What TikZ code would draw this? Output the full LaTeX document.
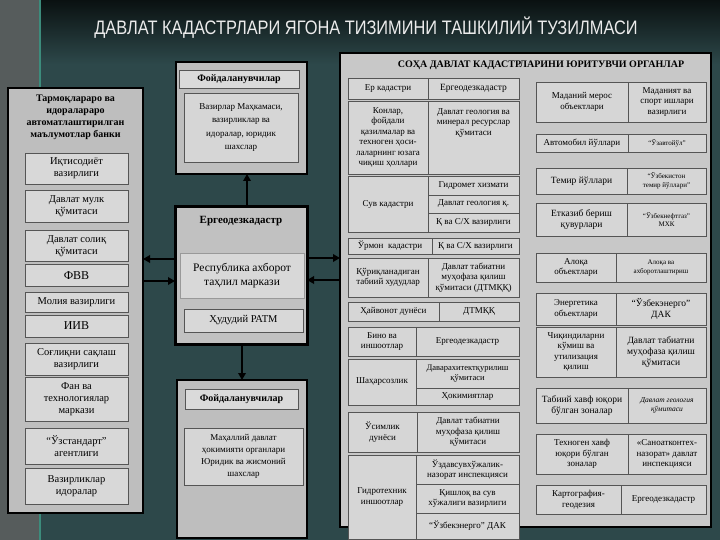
\documentclass[tikz,border=0pt]{standalone}
\usepackage{fontspec}
\setmainfont{Liberation Serif}
\newfontfamily\titlefont[FakeStretch=0.84]{Liberation Sans}
\usetikzlibrary{arrows.meta}
\definecolor{bgteal}{HTML}{2D484A}
\definecolor{topdark}{HTML}{0A1111}
\definecolor{stripcol}{HTML}{565C5C}
\definecolor{stripline}{HTML}{3C8C7C}
\definecolor{panelfill}{HTML}{BEBEBE}
\definecolor{rpanelfill}{HTML}{C8C8C8}
\definecolor{cellfill}{HTML}{D6D6D6}
\definecolor{cellline}{HTML}{555555}
\newcommand\bx[7][]{%
  \pgfmathsetmacro\bxw{#5-#3}\pgfmathsetmacro\bxh{#6-#4}%
  \node[cell,minimum width=\bxw pt,minimum height=\bxh pt,#1] (#2) at ({(#3+#5)/2},{(#4+#6)/2}) {#7};}
\begin{document}
\begin{tikzpicture}[x=1pt,y=-1pt,
  cell/.style={draw=cellline,fill=cellfill,line width=0.6pt,inner sep=0.5pt,outer sep=0pt,align=center,
    font=\fontsize{9}{10.5}\selectfont},
  lcell/.style={font=\fontsize{10.5}{12}\selectfont,fill=cellfill!95!white},
  small/.style={font=\fontsize{7}{8.5}\selectfont},
  panel/.style={draw=black,line width=1.4pt,inner sep=0pt,outer sep=0pt},
  arr/.style={line width=2.2pt,-{Triangle[length=7pt,width=7.5pt]}}]
\useasboundingbox (0,0) rectangle (720,540);
\fill[bgteal] (0,0) rectangle (720,540);
\shade[top color=topdark,bottom color=bgteal] (0,0) rectangle (720,64);
\fill[stripcol] (0,0) rectangle (39,540);
\fill[stripline] (39,0) rectangle (41,540);
\node[font=\titlefont\fontsize{19.5}{20}\selectfont,text=white!92!black] (title) at (366,28)
  {ДАВЛАТ КАДАСТРЛАРИ ЯГОНА ТИЗИМИНИ ТАШКИЛИЙ ТУЗИЛМАСИ};

% ---------------- left panel
\bx[panel,fill=panelfill]{lp}{8}{88}{143}{513}{}
\node[font=\bfseries\fontsize{10}{12}\selectfont,align=center] (lpt) at (75.5,117)
  {Тармоқлараро ва\\идоралараро\\автоматлаштирилган\\маълумотлар банки};
\bx[lcell]{l1}{25}{153}{128}{184}{Иқтисодиёт\\вазирлиги}
\bx[lcell]{l2}{25}{190}{128}{222.5}{Давлат мулк\\қўмитаси}
\bx[lcell]{l3}{25}{230}{128}{261.5}{Давлат солиқ\\қўмитаси}
\bx[lcell,font=\fontsize{12}{13}\selectfont]{l4}{25}{264}{128}{286.5}{ФВВ}
\bx[lcell]{l5}{25}{292}{128}{312.5}{Молия вазирлиги}
\bx[lcell,font=\fontsize{12}{13}\selectfont]{l6}{25}{315}{128}{337}{ИИВ}
\bx[lcell]{l7}{25}{343}{128}{375}{Соғлиқни сақлаш\\вазирлиги}
\bx[lcell]{l8}{25}{377}{128}{421}{Фан ва\\технологиялар\\маркази}
\bx[lcell]{l9}{25}{428}{128}{464}{“Ўзстандарт”\\агентлиги}
\bx[lcell]{l10}{25}{468}{128}{504}{Вазирликлар\\идоралар}

% ---------------- centre top
\bx[panel,fill=panelfill]{ub}{176}{62}{307}{174}{}
\bx[font=\bfseries\fontsize{10}{12}\selectfont,fill=cellfill!90!white]{ubt}{179}{70}{299}{88}{Фойдаланувчилар}
\bx[font=\fontsize{9}{13.5}\selectfont]{ubc}{184}{93}{298}{162}{Вазирлар Маҳкамаси,\\вазирликлар ва\\идоралар, юридик\\шахслар}

% ---------------- centre
\bx[draw=black,line width=3pt,fill=panelfill!95!white]{cb}{175}{207}{307}{344}{}
\node[font=\bfseries\fontsize{11}{13}\selectfont] (cbt) at (241,221) {Ергеодезкадастр};
\bx[draw=cellline!60!white,fill=cellfill!95!white,font=\fontsize{11.5}{14}\selectfont]{cbr}{180}{253}{304}{298}{Республика ахборот\\таҳлил маркази}
\bx[fill=cellfill!95!white,font=\fontsize{10.5}{12}\selectfont]{cbh}{184}{309}{303}{332}{Ҳудудий РАТМ}

% ---------------- centre bottom
\bx[panel,fill=panelfill]{db}{177}{380}{307}{538}{}
\bx[font=\bfseries\fontsize{10}{12}\selectfont,fill=cellfill!90!white]{dbt}{185}{389}{298}{409}{Фойдаланувчилар}
\bx[font=\fontsize{9}{12}\selectfont]{dbc}{184}{428}{303}{485}{Маҳаллий давлат\\ҳокимияти органлари\\Юридик ва жисмоний\\шахслар}

% ---------------- right panel
\bx[panel,fill=rpanelfill]{rp}{340}{53}{711}{527}{}
\node[font=\bfseries\fontsize{10}{12}\selectfont] (rpt) at (541,65) {СОҲА ДАВЛАТ КАДАСТРЛАРИНИ ЮРИТУВЧИ ОРГАНЛАР};

\bx{ra1}{348}{78}{428}{99}{Ер кадастри}
\bx[font=\fontsize{9.5}{11}\selectfont]{ra2}{428}{78}{519}{99}{Ергеодезкадастр}
\bx{rb1}{348}{101}{428}{174}{Конлар,\\фойдали\\қазилмалар ва\\техноген ҳоси-\\лаларнинг юзага\\чиқиш ҳоллари}
\bx{rb2}{428}{101}{519}{174}{}
\node[font=\fontsize{9}{10.5}\selectfont,align=center,anchor=north] (rb2t) at ([yshift=-4pt]rb2.north) {Давлат геология ва\\минерал ресурслар\\қўмитаси};
\bx{rc}{348}{176}{428}{232}{Сув кадастри}
\bx{rc1}{428}{176}{519}{195}{Гидромет хизмати}
\bx{rc2}{428}{195}{519}{213}{Давлат геология қ.}
\bx{rc3}{428}{213}{519}{232}{Қ ва С/Х вазирлиги}
\bx{rd1}{348}{238}{432}{254}{Ўрмон\ \ кадастри}
\bx{rd2}{432}{238}{519}{254}{Қ ва С/Х вазирлиги}
\bx{re1}{348}{258}{428}{297}{Қўриқланадиган\\табиий худудлар}
\bx{re2}{428}{258}{519}{297}{Давлат табиатни\\муҳофаза қилиш\\қўмитаси (ДТМҚҚ)}
\bx{rf1}{348}{302}{439}{321}{Ҳайвонот дунёси}
\bx{rf2}{439}{302}{519}{321}{ДТМҚҚ}
\bx{rg1}{348}{327}{416}{356}{Бино ва\\иншоотлар}
\bx{rg2}{416}{327}{519}{356}{Ергеодезкадастр}
\bx{rh}{348}{359}{416}{405}{Шаҳарсозлик}
\bx[font=\fontsize{8.5}{10}\selectfont]{rh1}{416}{359}{519}{388}{Даварахитектқурилиш\\қўмитаси}
\bx{rh2}{416}{388}{519}{405}{Ҳокимиятлар}
\bx{ri1}{348}{412}{417}{452}{Ўсимлик\\дунёси}
\bx{ri2}{417}{412}{519}{452}{Давлат табиатни\\муҳофаза қилиш\\қўмитаси}
\bx{rj}{348}{455}{416}{539}{Гидротехник\\иншоотлар}
\bx{rj1}{416}{455}{519}{484}{Ўздавсувхўжалик-\\назорат инспекцияси}
\bx{rj2}{416}{484}{519}{513}{Қишлоқ ва сув\\хўжалиги вазирлиги}
\bx{rj3}{416}{513}{519}{539}{“Ўзбекэнерго” ДАК}

\bx{sa1}{536}{82}{628}{122}{Маданий мерос\\объектлари}
\bx{sa2}{628}{82}{706}{122}{Маданият ва\\спорт ишлари\\вазирлиги}
\bx{sb1}{536}{134}{628}{152}{Автомобил йўллари}
\bx[small]{sb2}{628}{134}{706}{152}{“Ўзавтойўл”}
\bx[font=\fontsize{9.5}{11}\selectfont]{sc1}{536}{168}{627}{194}{Темир йўллари}
\bx[small]{sc2}{627}{168}{706}{194}{“Ўзбекистон\\темир йўллари”}
\bx[font=\fontsize{9.5}{11}\selectfont]{sd1}{536}{203}{627}{236}{Етказиб бериш\\қувурлари}
\bx[small]{sd2}{627}{203}{706}{236}{“Ўзбекнефтгаз”\\МХК}
\bx{se1}{536}{253}{616}{282}{Алоқа\\объектлари}
\bx[small]{se2}{616}{253}{706}{282}{Алоқа ва\\ахборотлаштириш}
\bx{sf1}{536}{293}{616}{325}{Энергетика\\объектлари}
\bx[font=\fontsize{9.5}{11}\selectfont]{sf2}{616}{293}{706}{325}{“Ўзбекэнерго”\\ДАК}
\bx{sg1}{536}{327}{616}{377}{Чиқиндиларни\\кўмиш ва\\утилизация\\қилиш}
\bx[font=\fontsize{9.5}{11}\selectfont]{sg2}{616}{327}{706}{377}{Давлат табиатни\\муҳофаза қилиш\\қўмитаси}
\bx[font=\fontsize{9.5}{11}\selectfont]{sh1}{536}{388}{628}{423}{Табиий хавф юқори\\бўлган зоналар}
\bx[font=\itshape\fontsize{7.5}{9}\selectfont]{sh2}{628}{388}{706}{423}{Давлат геология\\қўмитаси}
\bx{si1}{536}{434}{628}{474}{Техноген хавф\\юқори бўлган\\зоналар}
\bx{si2}{628}{434}{706}{474}{«Саноатконтех-\\назорат» давлат\\инспекцияси}
\bx{sj1}{536}{485}{621}{514}{Картография-\\геодезия}
\bx{sj2}{621}{485}{706}{514}{Ергеодезкадастр}

% ---------------- arrows
\draw[arr] ([xshift=6pt]cb.north) -- ([xshift=6pt]cb.north |- ub.south);
\draw[arr] ([xshift=1pt]cb.south) -- ([xshift=1pt]cb.south |- db.north);
\draw[arr] ([yshift=16.5pt]cb.west) -- ([yshift=16.5pt]cb.west -| lp.east);
\draw[arr] ([yshift=-5.5pt]cb.west -| lp.east) -- ([yshift=-5.5pt]cb.west);
\draw[arr] ([yshift=17.5pt]cb.east) -- ([yshift=17.5pt]cb.east -| rp.west);
\draw[arr] ([yshift=-4.5pt]cb.east -| rp.west) -- ([yshift=-4.5pt]cb.east);
\end{tikzpicture}
\end{document}
